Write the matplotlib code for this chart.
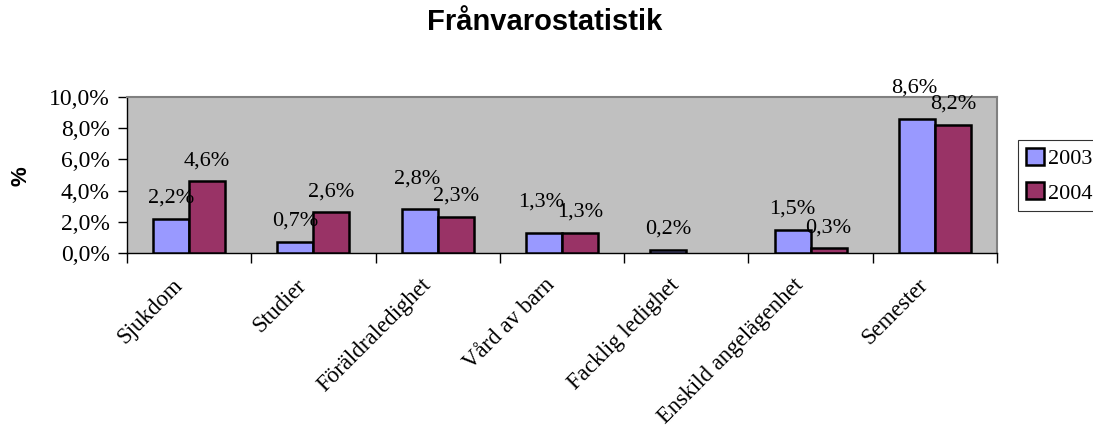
import matplotlib
matplotlib.use("Agg")
import matplotlib.pyplot as plt
import matplotlib.transforms as mtransforms
import numpy as np

categories = ["Sjukdom", "Studier", "Föräldraledighet", "Vård av barn",
              "Facklig ledighet", "Enskild angelägenhet", "Semester"]
series_names = ["2003", "2004"]
values_2003 = [2.2, 0.7, 2.8, 1.3, 0.2, 1.5, 8.6]
values_2004 = [4.6, 2.6, 2.3, 1.3, np.nan, 0.3, 8.2]
colors = ["#9999FF", "#993366"]

W, H = 1093, 428
fig = plt.figure(figsize=(W/100, H/100), dpi=100)
ax = fig.add_axes([127/W, 1-253/H, 870/W, 156/H])
ax.set_facecolor("#C0C0C0")

serif = "Liberation Serif"
FS = 16
x = np.arange(len(categories))
bw = 0.29
all_vals = [values_2003, values_2004]
for i, (vals, col) in enumerate(zip(all_vals, colors)):
    pos = x + (i - 0.5) * bw
    ax.bar(pos, vals, width=bw, color=col, edgecolor="black", linewidth=1.8,
           label=series_names[i], zorder=3)
    for j, (p, v) in enumerate(zip(pos, vals)):
        if np.isnan(v):
            continue
        dy = 8
        dx = 0
        # Excel-like overlap avoidance: lift the left label when neighbours are close
        other = all_vals[1 - i][j]
        if i == 0 and not np.isnan(other) and abs(v - other) < 0.8:
            dy += 7
            dx = -2
        ax.annotate(f"{v:.1f}%".replace(".", ","), (p, v), xytext=(dx, dy),
                    textcoords="offset points", ha="center", va="bottom",
                    fontsize=FS, family=serif, annotation_clip=False, zorder=4)

ax.set_xlim(-0.5, len(categories) - 0.5)
ax.set_ylim(0, 10)
ax.set_yticks([0, 2, 4, 6, 8, 10])
ax.set_yticklabels([f"{t:.1f}%".replace(".", ",") for t in [0, 2, 4, 6, 8, 10]],
                   family=serif, fontsize=17)
ax.set_xticks(np.arange(len(categories) + 1) - 0.5)
ax.set_xticklabels([])
ax.tick_params(axis="x", which="major", direction="out", length=7, width=1)
ax.tick_params(axis="y", direction="out", length=6.5, width=1, pad=6)

base = ax.get_xaxis_transform()
shift = mtransforms.ScaledTranslation(-10/100, -29/100, fig.dpi_scale_trans)
for xi, cat in zip(x, categories):
    ax.text(xi, 0, cat, transform=base + shift, rotation=45, ha="right",
            va="center", rotation_mode="anchor", family=serif, fontsize=16.5,
            clip_on=False)

for s in ["top", "right"]:
    ax.spines[s].set_color("#808080")
    ax.spines[s].set_linewidth(1.5)
for s in ["left", "bottom"]:
    ax.spines[s].set_color("black")
    ax.spines[s].set_linewidth(1)

fig.text(21/W, 1-176/H, "%", rotation=90, ha="center", va="center",
         fontsize=16, fontweight="bold", family="Liberation Sans")
fig.text(545/W, 1-22/H, "Frånvarostatistik", ha="center", va="center",
         fontsize=21, fontweight="bold", family="Liberation Sans")

leg = ax.legend(loc="upper left", bbox_to_anchor=(1018/W, 1-140/H),
                bbox_transform=fig.transFigure, prop={"family": serif, "size": FS},
                frameon=True, fancybox=False, edgecolor="black", borderpad=0.35,
                handlelength=0.8, handleheight=0.8, handletextpad=0.2,
                labelspacing=0.6, borderaxespad=0)
leg.get_frame().set_linewidth(0.8)

fig.savefig("out.png", dpi=100)
